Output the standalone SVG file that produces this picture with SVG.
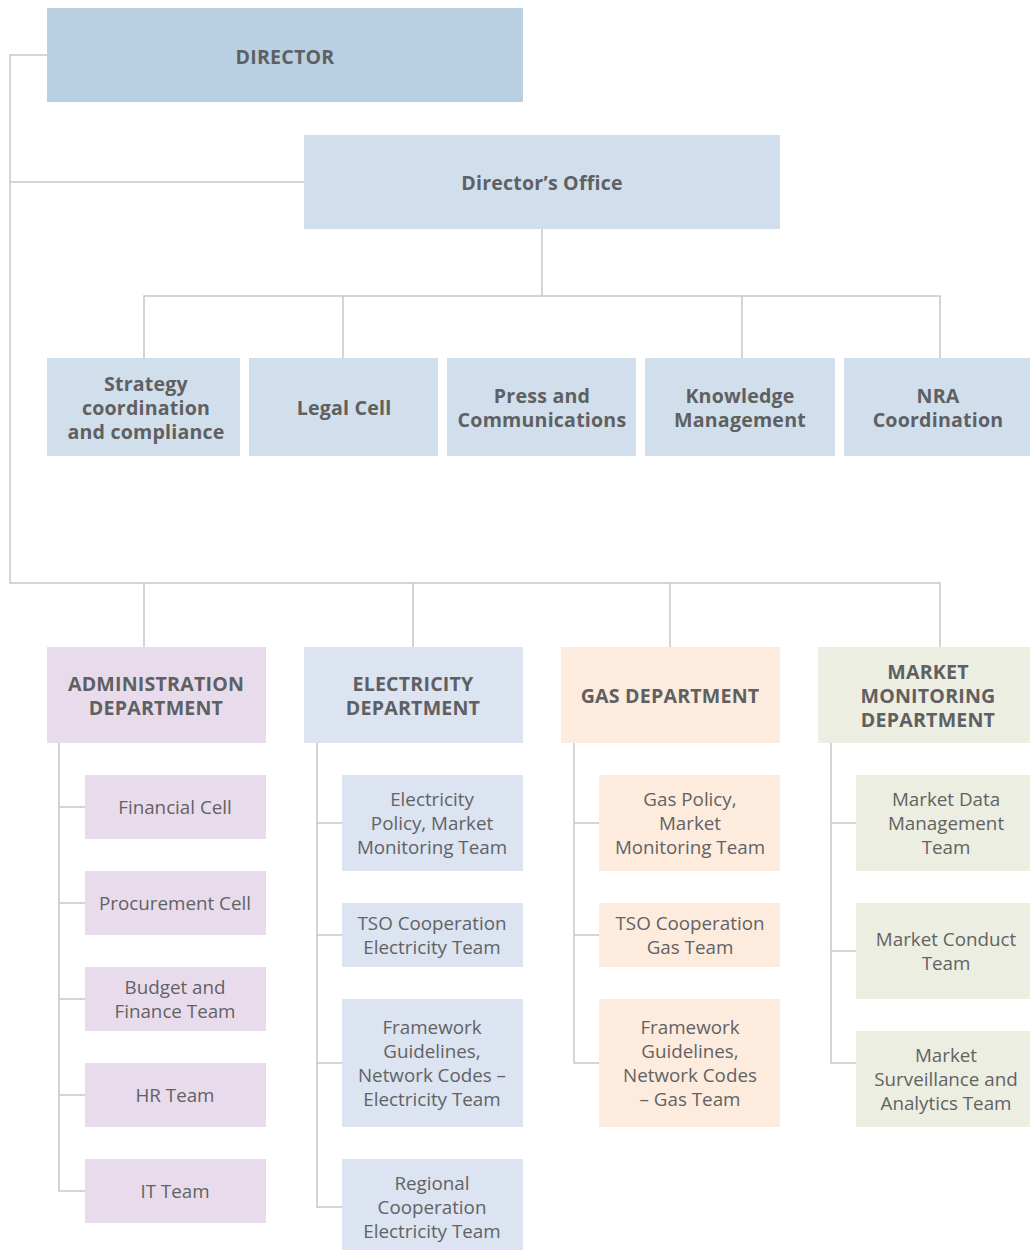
<svg xmlns="http://www.w3.org/2000/svg" width="1030" height="1250" viewBox="0 0 1030 1250">
<style>
.h{font-family:"Open Sans","Liberation Sans",sans-serif;font-weight:bold;font-size:19.6px;letter-spacing:0.2px;fill:#5f6062;text-anchor:middle}
.s{font-family:"Open Sans","Liberation Sans",sans-serif;font-size:18.8px;fill:#626264;text-anchor:middle}
.c{fill:none;stroke:#c8c8c8;stroke-width:1.5}
.dir{fill:#b9d0e3}.off{fill:#d0dfeb}.adm{fill:#e8dcec}.ele{fill:#dce3f1}.gas{fill:#fdecdd}.mkt{fill:#eceee1}
</style>
<rect width="1030" height="1250" fill="#fff"/>
<g id="connectors" class="c">
<path d="M47 55H10V583H940V647M10 182H304M542 229V296M144 358V296H940V358M343 296V358M742 296V358M144 583V647M413 583V647M670 583V647"/>
<path d="M59 743V1191H85M59 807H85M59 903H85M59 999H85M59 1095H85"/>
<path d="M317 743V1207H342M317 823H342M317 935H342M317 1063H342"/>
<path d="M574 743V1063H599M574 823H599M574 935H599"/>
<path d="M831 743V1063H856M831 823H856M831 951H856"/>
</g>
<g id="director"><rect class="dir" x="47" y="8" width="476" height="94"/><text class="h" x="285" y="64">DIRECTOR</text></g>
<g id="office"><rect class="off" x="304" y="135" width="476" height="94"/><text class="h" x="542" y="190">Director’s Office</text></g>
<g id="strategy"><rect class="off" x="47" y="358" width="193" height="98"/><text class="h"><tspan x="146" y="391">Strategy</tspan><tspan x="146" y="415">coordination</tspan><tspan x="146" y="439">and compliance</tspan></text></g>
<g id="legal"><rect class="off" x="249" y="358" width="189" height="98"/><text class="h" x="344" y="415">Legal Cell</text></g>
<g id="press"><rect class="off" x="447" y="358" width="189" height="98"/><text class="h"><tspan x="542" y="403">Press and</tspan><tspan x="542" y="427">Communications</tspan></text></g>
<g id="knowledge"><rect class="off" x="645" y="358" width="190" height="98"/><text class="h"><tspan x="740" y="403">Knowledge</tspan><tspan x="740" y="427">Management</tspan></text></g>
<g id="nra"><rect class="off" x="844" y="358" width="186" height="98"/><text class="h"><tspan x="938" y="403">NRA</tspan><tspan x="938" y="427">Coordination</tspan></text></g>
<g id="admin"><rect class="adm" x="47" y="647" width="219" height="96"/><text class="h"><tspan x="156" y="691">ADMINISTRATION</tspan><tspan x="156" y="715">DEPARTMENT</tspan></text></g>
<g id="electricity"><rect class="ele" x="304" y="647" width="219" height="96"/><text class="h"><tspan x="413" y="691">ELECTRICITY</tspan><tspan x="413" y="715">DEPARTMENT</tspan></text></g>
<g id="gas"><rect class="gas" x="561" y="647" width="219" height="96"/><text class="h" x="670" y="703">GAS DEPARTMENT</text></g>
<g id="market"><rect class="mkt" x="818" y="647" width="212" height="96"/><text class="h"><tspan x="928" y="679">MARKET</tspan><tspan x="928" y="703">MONITORING</tspan><tspan x="928" y="727">DEPARTMENT</tspan></text></g>
<g id="financial"><rect class="adm" x="85" y="775" width="181" height="64"/><text class="s" x="175" y="814">Financial Cell</text></g>
<g id="procurement"><rect class="adm" x="85" y="871" width="181" height="64"/><text class="s" x="175" y="910">Procurement Cell</text></g>
<g id="budget"><rect class="adm" x="85" y="967" width="181" height="64"/><text class="s"><tspan x="175" y="994">Budget and</tspan><tspan x="175" y="1018">Finance Team</tspan></text></g>
<g id="hr"><rect class="adm" x="85" y="1063" width="181" height="64"/><text class="s" x="175" y="1102">HR Team</text></g>
<g id="it"><rect class="adm" x="85" y="1159" width="181" height="64"/><text class="s" x="175" y="1198">IT Team</text></g>
<g id="elec-policy"><rect class="ele" x="342" y="775" width="181" height="96"/><text class="s"><tspan x="432" y="806">Electricity</tspan><tspan x="432" y="830">Policy, Market</tspan><tspan x="432" y="854">Monitoring Team</tspan></text></g>
<g id="elec-tso"><rect class="ele" x="342" y="903" width="181" height="64"/><text class="s"><tspan x="432" y="930">TSO Cooperation</tspan><tspan x="432" y="954">Electricity Team</tspan></text></g>
<g id="elec-fw"><rect class="ele" x="342" y="999" width="181" height="128"/><text class="s"><tspan x="432" y="1034">Framework</tspan><tspan x="432" y="1058">Guidelines,</tspan><tspan x="432" y="1082">Network Codes –</tspan><tspan x="432" y="1106">Electricity Team</tspan></text></g>
<g id="elec-reg"><rect class="ele" x="342" y="1159" width="181" height="91"/><text class="s"><tspan x="432" y="1190">Regional</tspan><tspan x="432" y="1214">Cooperation</tspan><tspan x="432" y="1238">Electricity Team</tspan></text></g>
<g id="gas-policy"><rect class="gas" x="599" y="775" width="181" height="96"/><text class="s"><tspan x="690" y="806">Gas Policy,</tspan><tspan x="690" y="830">Market</tspan><tspan x="690" y="854">Monitoring Team</tspan></text></g>
<g id="gas-tso"><rect class="gas" x="599" y="903" width="181" height="64"/><text class="s"><tspan x="690" y="930">TSO Cooperation</tspan><tspan x="690" y="954">Gas Team</tspan></text></g>
<g id="gas-fw"><rect class="gas" x="599" y="999" width="181" height="128"/><text class="s"><tspan x="690" y="1034">Framework</tspan><tspan x="690" y="1058">Guidelines,</tspan><tspan x="690" y="1082">Network Codes</tspan><tspan x="690" y="1106">– Gas Team</tspan></text></g>
<g id="mkt-data"><rect class="mkt" x="856" y="775" width="174" height="96"/><text class="s"><tspan x="946" y="806">Market Data</tspan><tspan x="946" y="830">Management</tspan><tspan x="946" y="854">Team</tspan></text></g>
<g id="mkt-conduct"><rect class="mkt" x="856" y="903" width="174" height="96"/><text class="s"><tspan x="946" y="946">Market Conduct</tspan><tspan x="946" y="970">Team</tspan></text></g>
<g id="mkt-surv"><rect class="mkt" x="856" y="1031" width="174" height="96"/><text class="s"><tspan x="946" y="1062">Market</tspan><tspan x="946" y="1086">Surveillance and</tspan><tspan x="946" y="1110">Analytics Team</tspan></text></g>
</svg>
